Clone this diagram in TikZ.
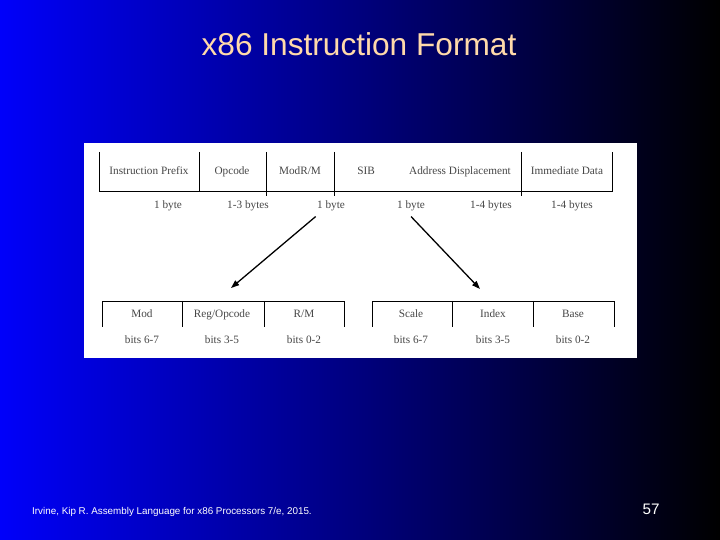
\documentclass[tikz,border=0pt]{standalone}
\usepackage{fontspec}
\setmainfont{Liberation Serif}
\setsansfont{Liberation Sans}
\usetikzlibrary{arrows.meta}
\definecolor{slideblue}{RGB}{0,0,250}
\definecolor{midblue}{RGB}{0,0,150}
\definecolor{peach}{RGB}{255,218,170}
\definecolor{fieldgray}{RGB}{70,70,70}
\tikzset{>={Triangle[length=7pt,width=5pt]},
  field/.style={font=\fontsize{9.6}{10}\selectfont, text=fieldgray, inner sep=1pt, text height=1.6ex, text depth=.3ex},
  size/.style={font=\fontsize{9.6}{10}\selectfont, text=fieldgray, inner sep=1pt, text height=1.6ex, text depth=.3ex},
  rule/.style={line width=0.7pt}}

\begin{document}
\begin{tikzpicture}[x=0.03cm,y=-0.03cm]
  \shade[left color=slideblue, middle color=midblue, right color=black] (0,0) rectangle (720,540);
  \useasboundingbox (0,0) rectangle (720,540);
  \node[font=\sffamily\fontsize{27}{29}\selectfont, text=peach] (title) at (359,44) {x86 Instruction Format};
  \fill[white] (84,143) rectangle (637,358);

  % instruction fields
  \draw[rule] (99,152) -- (99,191) -- (612,191) -- (612,152);
  \draw[rule] (199,152) -- (199,191);
  \draw[rule] (266,152) -- (266,196);
  \draw[rule] (334,152) -- (334,196);
  \draw[rule] (521,152) -- (521,196);
  \node[field] (prefix) at (149,171) {Instruction Prefix};
  \node[field] (opcode) at (232,171) {Opcode};
  \node[field] (modrm) at (300,171) {ModR/M};
  \node[field] (sib) at (366,171) {SIB};
  \node[field] (disp) at (460,171) {Address Displacement};
  \node[field] (imm) at (567,171) {Immediate Data};
  \node[size] (b1) at (168,205) {1 byte};
  \node[size] (b2) at (248,205) {1-3 bytes};
  \node[size] (b3) at (331,205) {1 byte};
  \node[size] (b4) at (411,205) {1 byte};
  \node[size] (b5) at (491,205) {1-4 bytes};
  \node[size] (b6) at (572,205) {1-4 bytes};

  % ModR/M and SIB bytes
  \draw[rule] (102,327) -- (102,301) -- (344,301) -- (344,327);
  \draw[rule] (182,301) -- (182,327);
  \draw[rule] (264,301) -- (264,327);
  \draw[rule] (372,327) -- (372,301) -- (614,301) -- (614,327);
  \draw[rule] (452,301) -- (452,327);
  \draw[rule] (533,301) -- (533,327);
  \node[field] (mod) at (142,314) {Mod};
  \node[field] (reg) at (222,314) {Reg/Opcode};
  \node[field] (rm) at (304,314) {R/M};
  \node[field] (scale) at (411,314) {Scale};
  \node[field] (index) at (493,314) {Index};
  \node[field] (base) at (573,314) {Base};
  \foreach \n/\x/\t in {m1/142/6-7, m2/222/3-5, m3/304/0-2, s1/411/6-7, s2/493/3-5, s3/573/0-2}
    \node[size] (\n) at (\x,340) {bits \t};

  \coordinate (modtip) at (231,288);
  \coordinate (sibtip) at (480,289);
  \draw[->,line width=1.1pt] (b3.south west) ++(0,5) -- (modtip);
  \draw[->,line width=1.1pt] (b4.south) ++(0,5) -- (sibtip);

  \node[font=\sffamily\fontsize{8.4}{9}\selectfont, text=white, anchor=west, inner sep=0pt] (cite) at (32,512) {Irvine, Kip R. Assembly Language for x86 Processors 7/e, 2015.};
  \node[font=\sffamily\fontsize{13}{13}\selectfont, text=white] (page) at (651,509) {57};
\end{tikzpicture}
\end{document}
